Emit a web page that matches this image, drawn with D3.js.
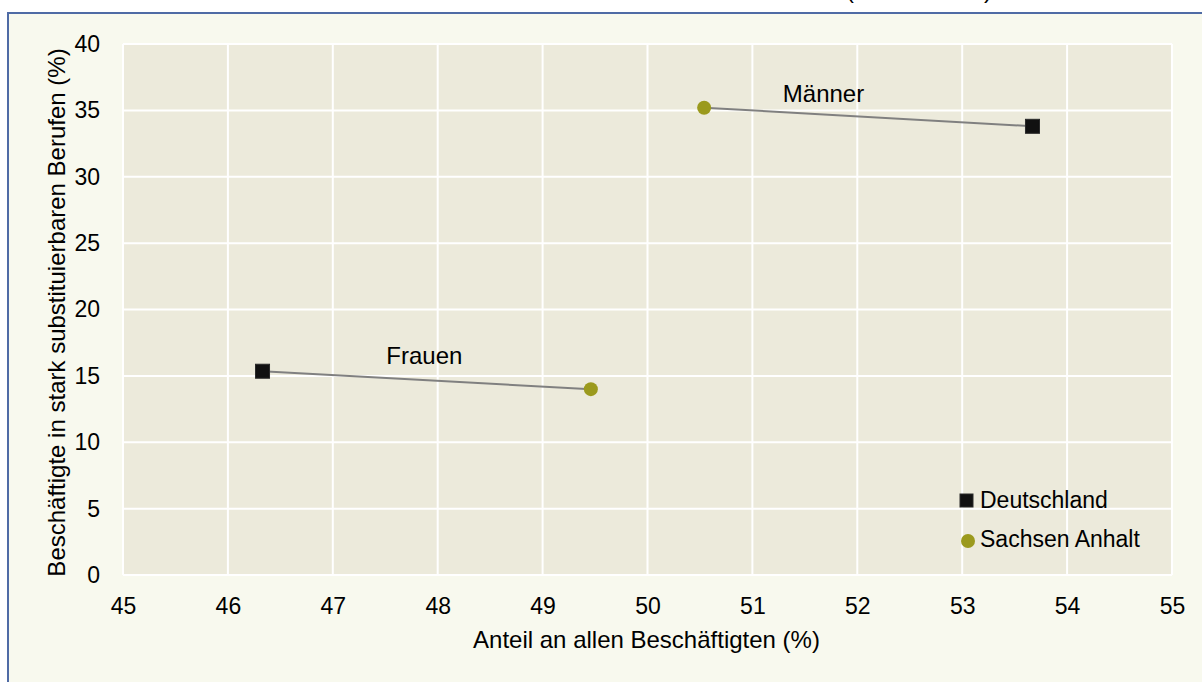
<!DOCTYPE html>
<html><head><meta charset="utf-8">
<script src="https://cdn.jsdelivr.net/npm/d3@7"></script>
<style>
html,body{margin:0;padding:0;background:#fff;}
svg{display:block;}
text{font-family:"Liberation Sans",Arial,sans-serif;fill:#000;}
</style></head>
<body>
<script>
// ---- data ----
const groups = ["Männer", "Frauen"];
const regions = ["Deutschland", "Sachsen Anhalt"];
const shareDeutschland = [53.67, 46.33];       // Anteil an allen Beschäftigten (%)
const substDeutschland = [33.8, 15.35];        // Beschäftigte in stark substituierbaren Berufen (%)
const shareSachsenAnhalt = [50.54, 49.46];
const substSachsenAnhalt = [35.2, 14.0];
const xTicks = [45, 46, 47, 48, 49, 50, 51, 52, 53, 54, 55];
const yTicks = [0, 5, 10, 15, 20, 25, 30, 35, 40];
const labelX = [51.29, 47.51];
const labelY = [35.63, 15.89];
const xTitle = "Anteil an allen Beschäftigten (%)";
const yTitle = "Beschäftigte in stark substituierbaren Berufen (%)";

const W = 1202, H = 682;
const plot = {left: 123, right: 1172, top: 44, bottom: 575};

const svg = d3.select("body").append("svg").attr("width", W).attr("height", H);

// outer chart frame (extends beyond the visible area)
svg.append("rect").attr("x", 8).attr("y", 13).attr("width", W + 20).attr("height", H + 20)
  .attr("fill", "#F8F9EE").attr("stroke", "#4F6BA5").attr("stroke-width", 2);

// clipped title remnant
const tg = svg.append("g").attr("font-size", 24);
tg.append("text").attr("x", 850).attr("y", -2).attr("text-anchor", "middle").text("(");
tg.append("text").attr("x", 988).attr("y", -2).attr("text-anchor", "middle").text(")");

const x = d3.scaleLinear().domain([45, 55]).range([plot.left, plot.right]);
const y = d3.scaleLinear().domain([0, 40]).range([plot.bottom, plot.top]);

svg.append("rect").attr("x", plot.left).attr("y", plot.top)
  .attr("width", plot.right - plot.left).attr("height", plot.bottom - plot.top)
  .attr("fill", "#ECEADB");

// grid
svg.append("g").selectAll("line").data(xTicks).join("line")
  .attr("x1", d => x(d)).attr("x2", d => x(d)).attr("y1", plot.top).attr("y2", plot.bottom)
  .attr("stroke", "#fff").attr("stroke-width", 2);
svg.append("g").selectAll("line").data(yTicks).join("line")
  .attr("x1", plot.left).attr("x2", plot.right).attr("y1", d => y(d)).attr("y2", d => y(d))
  .attr("stroke", "#fff").attr("stroke-width", 2);

// axes
const xAxis = svg.append("g").attr("transform", `translate(0,${plot.bottom})`)
  .call(d3.axisBottom(x).tickValues(xTicks).tickSize(0).tickPadding(31).tickFormat(d3.format("d")));
const yAxis = svg.append("g").attr("transform", `translate(${plot.left},0)`)
  .call(d3.axisLeft(y).tickValues(yTicks).tickSize(0).tickPadding(23).tickFormat(d3.format("d")));
[xAxis, yAxis].forEach(a => {
  a.select(".domain").remove();
  a.selectAll("text").attr("font-size", 23).attr("fill", "#000")
   .attr("font-family", '"Liberation Sans",Arial,sans-serif');
});
xAxis.selectAll("text").attr("dy", "0.35em");

svg.append("text").attr("x", (plot.left + plot.right) / 2 - 1).attr("y", 648)
  .attr("text-anchor", "middle").attr("font-size", 24).text(xTitle);
svg.append("text").attr("transform", `translate(65,${(plot.top + plot.bottom) / 2 + 3}) rotate(-90)`)
  .attr("text-anchor", "middle").attr("font-size", 24).text(yTitle);

// connector lines
const pairs = groups.map((g, i) => ({
  g, de: [shareDeutschland[i], substDeutschland[i]], sa: [shareSachsenAnhalt[i], substSachsenAnhalt[i]]
}));
svg.append("g").selectAll("line").data(pairs).join("line")
  .attr("x1", d => x(d.de[0])).attr("y1", d => y(d.de[1]))
  .attr("x2", d => x(d.sa[0])).attr("y2", d => y(d.sa[1]))
  .attr("stroke", "#808080").attr("stroke-width", 2);

// markers
const sq = 14;
svg.append("g").selectAll("rect").data(pairs).join("rect")
  .attr("x", d => x(d.de[0]) - sq / 2).attr("y", d => y(d.de[1]) - sq / 2)
  .attr("width", sq).attr("height", sq).attr("fill", "#111").attr("stroke", "#2a2a2a").attr("stroke-width", 1);
svg.append("g").selectAll("circle").data(pairs).join("circle")
  .attr("cx", d => x(d.sa[0])).attr("cy", d => y(d.sa[1])).attr("r", 7)
  .attr("fill", "#9B9A1D");

// group labels
svg.append("g").selectAll("text").data(groups).join("text")
  .attr("x", (d, i) => x(labelX[i])).attr("y", (d, i) => y(labelY[i]))
  .attr("font-size", 24).text(d => d);

// legend
const lg = svg.append("g");
lg.append("rect").attr("x", 960).attr("y", 494).attr("width", 13).attr("height", 13)
  .attr("fill", "#111").attr("stroke", "#2a2a2a");
lg.append("circle").attr("cx", 968).attr("cy", 541).attr("r", 7).attr("fill", "#9B9A1D");
lg.selectAll("text").data(regions).join("text")
  .attr("x", 980).attr("y", (d, i) => 508 + i * 39).attr("font-size", 23).text(d => d);
</script>
</body></html>
